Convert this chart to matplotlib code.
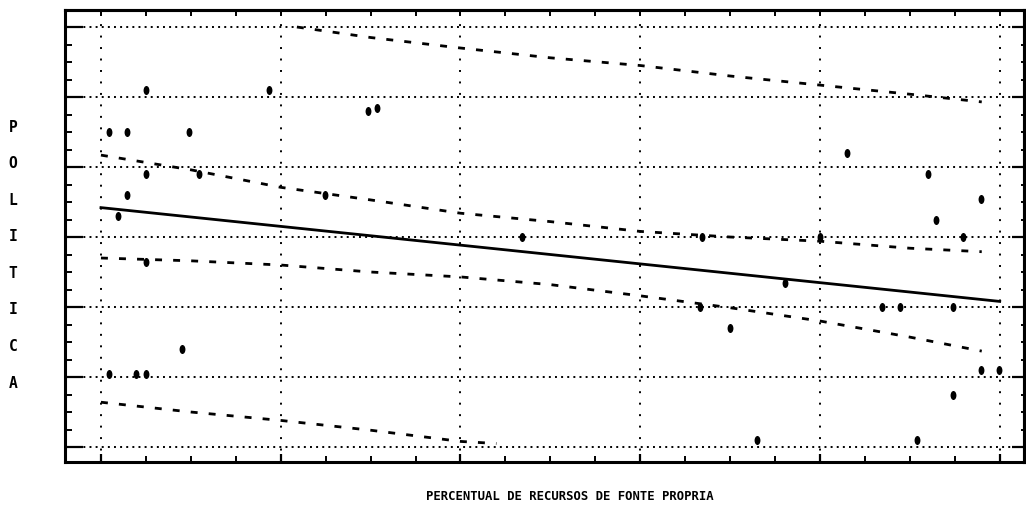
import matplotlib
matplotlib.use('Agg')
import matplotlib.pyplot as plt
from matplotlib.markers import MarkerStyle
from matplotlib.transforms import Affine2D
from matplotlib.ticker import MultipleLocator, NullFormatter

# observed points (percent own resources vs politics score)
pct = [0.9, 2.9, 5.0, 9.8, 5.0, 10.9, 2.9, 1.9, 18.7, 29.7, 30.7, 5.0, 9.0,
       0.9, 3.9, 5.0, 24.9, 46.8, 66.9, 80.0, 70.0, 76.1, 66.6, 83.0, 92.0,
       92.9, 97.9, 95.9, 86.9, 88.9, 94.8, 97.9, 99.9, 94.8, 73.0, 90.8]
pol = [4.5, 4.5, 5.1, 4.5, 3.9, 3.9, 3.6, 3.3, 5.1, 4.8, 4.85, 2.65, 1.4,
       1.05, 1.05, 1.05, 3.6, 3.0, 3.0, 3.0, 1.7, 2.35, 2.0, 4.2, 3.9,
       3.25, 3.55, 3.0, 2.0, 2.0, 2.0, 1.1, 1.1, 0.75, 0.1, 0.1]

# fitted line
fit_x = [0, 100]
fit_y = [3.42, 2.08]

# confidence band for the mean
band_x = [0, 10, 20, 30, 40, 50, 60, 70, 80, 90, 98]
conf_hi = [4.17, 3.96, 3.71, 3.53, 3.34, 3.22, 3.08, 3.00, 2.94, 2.84, 2.79]
conf_lo = [2.70, 2.66, 2.60, 2.50, 2.43, 2.32, 2.16, 1.99, 1.80, 1.57, 1.37]

# prediction band (cut at the plot range)
pred_hi_x = [21.8, 30, 40, 50, 60, 70, 80, 90, 98]
pred_hi = [6.0, 5.85, 5.70, 5.56, 5.45, 5.30, 5.17, 5.04, 4.93]
pred_lo_x = [0, 10, 20, 30, 40, 44]
pred_lo = [0.64, 0.50, 0.38, 0.24, 0.08, 0.05]

xlabel = 'PERCENTUAL DE RECURSOS DE FONTE PROPRIA'
ylabel = 'POLITICA'

W, H = 1026, 515
fig = plt.figure(figsize=(W / 100, H / 100), dpi=100)
fig.patch.set_facecolor('white')
ax = fig.add_axes([65 / W, 1 - 462 / H, (1024 - 65) / W, (462 - 10) / H])
ax.set_xlim(-4.0, 102.7)
ax.set_ylim(-0.214, 6.243)

ax.plot(fit_x, fit_y, color='black', linewidth=2.0)
dash = dict(color='black', linewidth=2.0, linestyle=(0, (2.5, 4)))
ax.plot(band_x, conf_hi, **dash)
ax.plot(band_x, conf_lo, **dash)
ax.plot(pred_hi_x, pred_hi, **dash)
ax.plot(pred_lo_x, pred_lo, **dash)

mk = MarkerStyle('o', transform=Affine2D().scale(0.65, 1.0))
ax.plot(pct, pol, linestyle='none', marker=mk, markersize=6.5,
        color='black', markeredgewidth=0)

# ticks and dotted grid
ax.xaxis.set_major_locator(MultipleLocator(20))
ax.xaxis.set_minor_locator(MultipleLocator(5))
ax.yaxis.set_major_locator(MultipleLocator(1))
ax.yaxis.set_minor_locator(MultipleLocator(0.25))
ax.xaxis.set_major_formatter(NullFormatter())
ax.yaxis.set_major_formatter(NullFormatter())
ax.xaxis.grid(True, which='major', color='black', linestyle=(0, (1, 4.9)), linewidth=1.4)
ax.yaxis.grid(True, which='major', color='black', linestyle=(0, (1, 2.15)), linewidth=1.4)
ax.set_axisbelow(True)

ax.tick_params(axis='x', which='major', direction='in', length=6, width=1.6)
ax.tick_params(axis='x', which='minor', direction='in', length=4, width=1.4)
ax.tick_params(axis='y', which='major', direction='in', length=13, width=1.6)
ax.tick_params(axis='y', which='minor', direction='in', length=5, width=1.4)

top = ax.secondary_xaxis('top')
top.xaxis.set_major_locator(MultipleLocator(20))
top.xaxis.set_minor_locator(MultipleLocator(5))
top.xaxis.set_major_formatter(NullFormatter())
top.tick_params(which='both', direction='in', length=4, width=1.4)

right = ax.secondary_yaxis('right')
right.yaxis.set_major_locator(MultipleLocator(1))
right.yaxis.set_minor_locator(MultipleLocator(0.25))
right.yaxis.set_major_formatter(NullFormatter())
right.tick_params(which='major', direction='in', length=9, width=1.6)
right.tick_params(which='minor', direction='in', length=2.5, width=1.4)

for a in (ax, top, right):
    for s in a.spines.values():
        s.set_linewidth(2.2)
        s.set_color('black')

font = dict(family='DejaVu Sans Mono', weight='bold', color='black')
fig.text(570 / W, 1 - 497 / H, xlabel, ha='center', va='center', fontsize=8.8, **font)
for i, ch in enumerate(ylabel):
    fig.text(13 / W, 1 - (127 + 36.6 * i) / H, ch, ha='center', va='center',
             fontsize=10.5, **font)

fig.savefig('out.png', dpi=100, facecolor='white')
